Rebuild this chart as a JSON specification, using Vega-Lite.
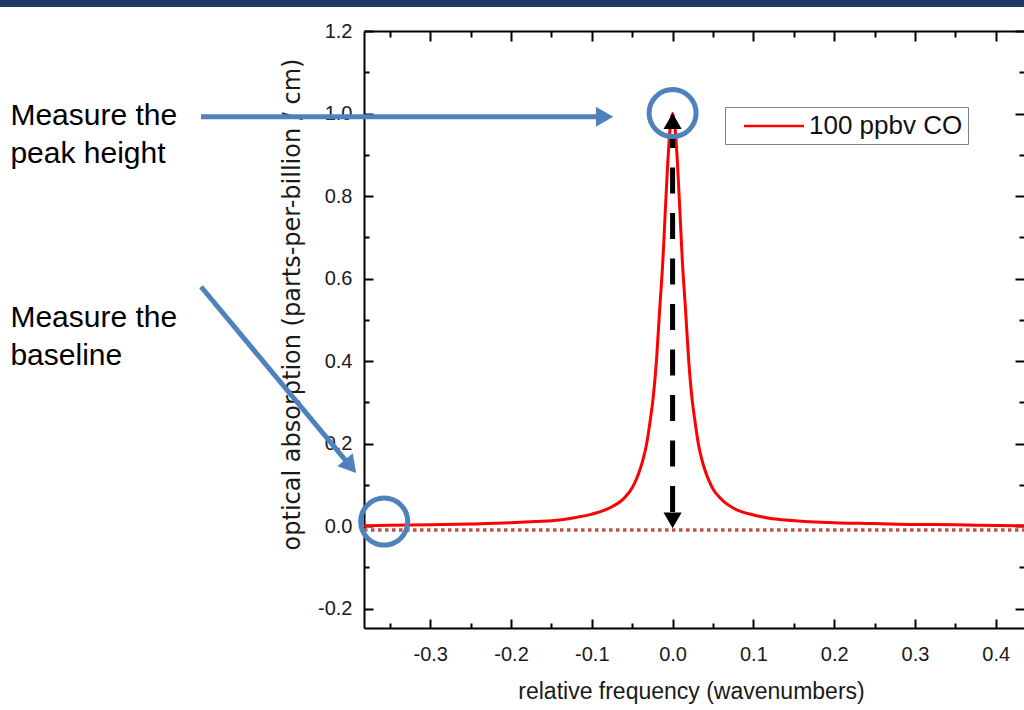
{
  "$schema": "https://vega.github.io/schema/vega-lite/v6.json",
  "width": 660,
  "height": 597,
  "autosize": {"type": "none"},
  "padding": {"left": 364, "top": 31, "right": 0, "bottom": 82},
  "background": "#ffffff",
  "config": {
    "font": "Liberation Sans",
    "view": {"stroke": null},
    "axis": {"grid": false, "domainColor": "#000000", "domainWidth": 2, "tickColor": "#000000", "tickWidth": 2, "labelFont": "Liberation Sans", "labelFontSize": 20, "labelColor": "#1a1a1a"}
  },
  "datasets": {
    "spectrum": [
      {"frequency": -0.382, "absorption": 0.001, "series": "100 ppbv CO"},
      {"frequency": -0.35, "absorption": 0.002, "series": "100 ppbv CO"},
      {"frequency": -0.3, "absorption": 0.003, "series": "100 ppbv CO"},
      {"frequency": -0.25, "absorption": 0.005, "series": "100 ppbv CO"},
      {"frequency": -0.2, "absorption": 0.008, "series": "100 ppbv CO"},
      {"frequency": -0.17, "absorption": 0.011, "series": "100 ppbv CO"},
      {"frequency": -0.14, "absorption": 0.015, "series": "100 ppbv CO"},
      {"frequency": -0.12, "absorption": 0.021, "series": "100 ppbv CO"},
      {"frequency": -0.1, "absorption": 0.029, "series": "100 ppbv CO"},
      {"frequency": -0.085, "absorption": 0.038, "series": "100 ppbv CO"},
      {"frequency": -0.075, "absorption": 0.047, "series": "100 ppbv CO"},
      {"frequency": -0.065, "absorption": 0.059, "series": "100 ppbv CO"},
      {"frequency": -0.058, "absorption": 0.072, "series": "100 ppbv CO"},
      {"frequency": -0.05, "absorption": 0.093, "series": "100 ppbv CO"},
      {"frequency": -0.045, "absorption": 0.113, "series": "100 ppbv CO"},
      {"frequency": -0.04, "absorption": 0.139, "series": "100 ppbv CO"},
      {"frequency": -0.036, "absorption": 0.166, "series": "100 ppbv CO"},
      {"frequency": -0.032, "absorption": 0.201, "series": "100 ppbv CO"},
      {"frequency": -0.028, "absorption": 0.252, "series": "100 ppbv CO"},
      {"frequency": -0.024, "absorption": 0.312, "series": "100 ppbv CO"},
      {"frequency": -0.02, "absorption": 0.4, "series": "100 ppbv CO"},
      {"frequency": -0.016, "absorption": 0.525, "series": "100 ppbv CO"},
      {"frequency": -0.012, "absorption": 0.645, "series": "100 ppbv CO"},
      {"frequency": -0.009, "absorption": 0.765, "series": "100 ppbv CO"},
      {"frequency": -0.006, "absorption": 0.88, "series": "100 ppbv CO"},
      {"frequency": -0.003, "absorption": 0.966, "series": "100 ppbv CO"},
      {"frequency": 0.0, "absorption": 1.0, "series": "100 ppbv CO"},
      {"frequency": 0.003, "absorption": 0.966, "series": "100 ppbv CO"},
      {"frequency": 0.006, "absorption": 0.88, "series": "100 ppbv CO"},
      {"frequency": 0.009, "absorption": 0.765, "series": "100 ppbv CO"},
      {"frequency": 0.012, "absorption": 0.645, "series": "100 ppbv CO"},
      {"frequency": 0.016, "absorption": 0.525, "series": "100 ppbv CO"},
      {"frequency": 0.02, "absorption": 0.4, "series": "100 ppbv CO"},
      {"frequency": 0.024, "absorption": 0.31, "series": "100 ppbv CO"},
      {"frequency": 0.028, "absorption": 0.25, "series": "100 ppbv CO"},
      {"frequency": 0.032, "absorption": 0.198, "series": "100 ppbv CO"},
      {"frequency": 0.036, "absorption": 0.163, "series": "100 ppbv CO"},
      {"frequency": 0.04, "absorption": 0.136, "series": "100 ppbv CO"},
      {"frequency": 0.045, "absorption": 0.11, "series": "100 ppbv CO"},
      {"frequency": 0.05, "absorption": 0.09, "series": "100 ppbv CO"},
      {"frequency": 0.058, "absorption": 0.07, "series": "100 ppbv CO"},
      {"frequency": 0.065, "absorption": 0.057, "series": "100 ppbv CO"},
      {"frequency": 0.075, "absorption": 0.044, "series": "100 ppbv CO"},
      {"frequency": 0.085, "absorption": 0.035, "series": "100 ppbv CO"},
      {"frequency": 0.1, "absorption": 0.027, "series": "100 ppbv CO"},
      {"frequency": 0.12, "absorption": 0.019, "series": "100 ppbv CO"},
      {"frequency": 0.14, "absorption": 0.0145, "series": "100 ppbv CO"},
      {"frequency": 0.17, "absorption": 0.0105, "series": "100 ppbv CO"},
      {"frequency": 0.2, "absorption": 0.008, "series": "100 ppbv CO"},
      {"frequency": 0.25, "absorption": 0.0062, "series": "100 ppbv CO"},
      {"frequency": 0.3, "absorption": 0.004, "series": "100 ppbv CO"},
      {"frequency": 0.35, "absorption": 0.0035, "series": "100 ppbv CO"},
      {"frequency": 0.38, "absorption": 0.002, "series": "100 ppbv CO"},
      {"frequency": 0.435, "absorption": 0.001, "series": "100 ppbv CO"}
    ],
    "baseline": [{"x": -0.382, "x2": 0.435, "y": -0.0097}],
    "peakArrow": [{"x": 0.0, "y": 0.034, "y2": 0.9479}],
    "peakArrowHeads": [{"x": 0.0, "y": 0.9813, "end": "top"}, {"x": 0.0, "y": 0.0136, "end": "bottom"}],
    "blueArrows": [
      {"x": -0.5837, "y": 0.9923, "x2": -0.0842, "y2": 0.9923},
      {"x": -0.5837, "y": 0.5801, "x2": -0.3986, "y2": 0.1447}
    ],
    "peakPointer": [{"x": -0.0842, "y": 0.9923}],
    "basePointer": [{"x": -0.3986, "y": 0.1447}],
    "circles": [{"x": 0.0, "y": 1.001}, {"x": -0.357, "y": 0.011}],
    "notes": [
      {"x": -0.8197, "y": 0.9721, "label": ["Measure the", "peak height"]},
      {"x": -0.8197, "y": 0.4832, "label": ["Measure the", "baseline"]}
    ],
    "banner": [{"x": -0.84, "x2": 0.45, "y": 1.2582, "y2": 1.29}]
  },
  "layer": [
    {
      "data": {"name": "spectrum"},
      "mark": {"type": "line", "strokeWidth": 3, "interpolate": "monotone"},
      "encoding": {
        "x": {"field": "frequency", "type": "quantitative", "scale": {"domain": [-0.382, 0.435], "nice": false, "zero": false},
          "axis": {"orient": "bottom", "values": [-0.3, -0.2, -0.1, 0, 0.1, 0.2, 0.3, 0.4], "labelExpr": "replace(format(datum.value, '.1f'), '\u2212', '-')", "tickSize": -9, "labelPadding": 25,
            "labelFont": "Liberation Sans", "labelFontSize": 20, "labelColor": "#1a1a1a",
            "title": "relative frequency (wavenumbers)", "titleFont": "Liberation Sans", "titleFontSize": 23, "titleFontWeight": "normal", "titleColor": "#1a1a1a", "titleX": 327, "titleY": 70, "titleAlign": "center", "titleBaseline": "alphabetic"}},
        "y": {"field": "absorption", "type": "quantitative", "scale": {"domain": [-0.247, 1.2], "nice": false, "zero": false},
          "axis": {"orient": "left", "values": [-0.2, 0, 0.2, 0.4, 0.6, 0.8, 1.0, 1.2], "labelExpr": "replace(format(datum.value, '.1f'), '\u2212', '-')", "tickSize": -9, "labelPadding": 21,
            "labelFont": "Liberation Sans", "labelFontSize": 20, "labelColor": "#1a1a1a",
            "title": "optical absorption (parts-per-billion / cm)", "titleFont": "DejaVu Sans", "titleFontSize": 24, "titleFontWeight": "normal", "titleColor": "#1a1a1a", "titleAngle": -90, "titleX": -65, "titleY": 273, "titleAlign": "center", "titleBaseline": "alphabetic"}},
        "color": {"field": "series", "type": "nominal", "scale": {"domain": ["100 ppbv CO"], "range": ["#FF0000"]},
          "legend": {"title": null, "orient": "none", "legendX": 361, "legendY": 76, "padding": 5, "strokeColor": "#808080", "fillColor": "#ffffff",
            "symbolType": "M-2.4,0L2.4,0", "symbolSize": 625, "symbolStrokeWidth": 2.5, "symbolOffset": 30, "labelOffset": 21,
            "labelFont": "Liberation Sans", "labelFontSize": 26, "labelColor": "#111111", "labelLimit": 400}}
      }
    },
    {
      "data": {"name": "baseline"},
      "mark": {"type": "rule", "color": "#C0504D", "strokeWidth": 3.5, "strokeDash": [3.5, 3.5]},
      "encoding": {
        "x": {"field": "x", "type": "quantitative", "scale": {"domain": [-0.382, 0.435], "nice": false, "zero": false},
          "axis": {"orient": "bottom", "values": [-0.35, -0.25, -0.15, -0.05, 0.05, 0.15, 0.25, 0.35], "labels": false, "domain": false, "tickSize": -5, "title": null}},
        "x2": {"field": "x2"},
        "y": {"field": "y", "type": "quantitative", "scale": {"domain": [-0.247, 1.2], "nice": false, "zero": false},
          "axis": {"orient": "left", "values": [-0.1, 0.1, 0.3, 0.5, 0.7, 0.9, 1.1], "labels": false, "domain": false, "tickSize": -5, "title": null}}
      }
    },
    {
      "data": {"name": "peakArrow"},
      "mark": {"type": "rule", "color": "#000000", "strokeWidth": 5, "strokeDash": [26, 19.5]},
      "encoding": {
        "x": {"field": "x", "type": "quantitative", "scale": {"domain": [-0.382, 0.435], "nice": false, "zero": false},
          "axis": {"orient": "top", "values": [-0.3, -0.2, -0.1, 0, 0.1, 0.2, 0.3, 0.4], "labels": false, "domain": true, "tickSize": -10, "title": null}},
        "y": {"field": "y", "type": "quantitative", "scale": {"domain": [-0.247, 1.2], "nice": false, "zero": false},
          "axis": {"orient": "right", "values": [-0.2, 0, 0.2, 0.4, 0.6, 0.8, 1.0, 1.2], "labels": false, "domain": false, "tickSize": -9, "title": null}},
        "y2": {"field": "y2"}
      }
    },
    {
      "data": {"name": "peakArrowHeads"},
      "mark": {"type": "point", "filled": true, "opacity": 1, "color": "#000000", "size": 330},
      "encoding": {
        "x": {"field": "x", "type": "quantitative", "scale": {"domain": [-0.382, 0.435], "nice": false, "zero": false},
          "axis": {"orient": "top", "values": [-0.35, -0.25, -0.15, -0.05, 0.05, 0.15, 0.25, 0.35], "labels": false, "domain": false, "tickSize": -6, "title": null}},
        "y": {"field": "y", "type": "quantitative", "scale": {"domain": [-0.247, 1.2], "nice": false, "zero": false},
          "axis": {"orient": "right", "values": [-0.1, 0.1, 0.3, 0.5, 0.7, 0.9, 1.1], "labels": false, "domain": false, "tickSize": -5, "title": null}},
        "shape": {"field": "end", "type": "nominal", "scale": {"domain": ["top", "bottom"], "range": ["triangle-up", "triangle-down"]}, "legend": null}
      }
    },
    {
      "data": {"name": "blueArrows"},
      "mark": {"type": "rule", "color": "#4F81BD", "strokeWidth": 5},
      "encoding": {
        "x": {"field": "x", "type": "quantitative", "scale": {"domain": [-0.382, 0.435], "nice": false, "zero": false}, "axis": null},
        "y": {"field": "y", "type": "quantitative", "scale": {"domain": [-0.247, 1.2], "nice": false, "zero": false}, "axis": null},
        "x2": {"field": "x2"},
        "y2": {"field": "y2"}
      }
    },
    {
      "data": {"name": "peakPointer"},
      "mark": {"type": "point", "shape": "triangle-right", "filled": true, "opacity": 1, "color": "#4F81BD", "size": 400, "angle": 0},
      "encoding": {
        "x": {"field": "x", "type": "quantitative", "scale": {"domain": [-0.382, 0.435], "nice": false, "zero": false}, "axis": null},
        "y": {"field": "y", "type": "quantitative", "scale": {"domain": [-0.247, 1.2], "nice": false, "zero": false}, "axis": null}
      }
    },
    {
      "data": {"name": "basePointer"},
      "mark": {"type": "point", "shape": "triangle-right", "filled": true, "opacity": 1, "color": "#4F81BD", "size": 400, "angle": 50.2},
      "encoding": {
        "x": {"field": "x", "type": "quantitative", "scale": {"domain": [-0.382, 0.435], "nice": false, "zero": false}, "axis": null},
        "y": {"field": "y", "type": "quantitative", "scale": {"domain": [-0.247, 1.2], "nice": false, "zero": false}, "axis": null}
      }
    },
    {
      "data": {"name": "circles"},
      "mark": {"type": "point", "shape": "circle", "filled": false, "opacity": 1, "color": "#4F81BD", "strokeWidth": 5, "size": 2209},
      "encoding": {
        "x": {"field": "x", "type": "quantitative", "scale": {"domain": [-0.382, 0.435], "nice": false, "zero": false}, "axis": null},
        "y": {"field": "y", "type": "quantitative", "scale": {"domain": [-0.247, 1.2], "nice": false, "zero": false}, "axis": null}
      }
    },
    {
      "data": {"name": "notes"},
      "mark": {"type": "text", "align": "left", "baseline": "alphabetic", "font": "Liberation Sans", "fontSize": 30, "lineHeight": 38, "color": "#000000"},
      "encoding": {
        "x": {"field": "x", "type": "quantitative", "scale": {"domain": [-0.382, 0.435], "nice": false, "zero": false}, "axis": null},
        "y": {"field": "y", "type": "quantitative", "scale": {"domain": [-0.247, 1.2], "nice": false, "zero": false}, "axis": null},
        "text": {"field": "label", "type": "nominal"}
      }
    },
    {
      "data": {"name": "banner"},
      "mark": {"type": "rect", "color": "#1F3864"},
      "encoding": {
        "x": {"field": "x", "type": "quantitative", "scale": {"domain": [-0.382, 0.435], "nice": false, "zero": false}, "axis": null},
        "x2": {"field": "x2"},
        "y": {"field": "y", "type": "quantitative", "scale": {"domain": [-0.247, 1.2], "nice": false, "zero": false}, "axis": null},
        "y2": {"field": "y2"}
      }
    }
  ],
  "resolve": {"axis": {"x": "independent", "y": "independent"}}
}
